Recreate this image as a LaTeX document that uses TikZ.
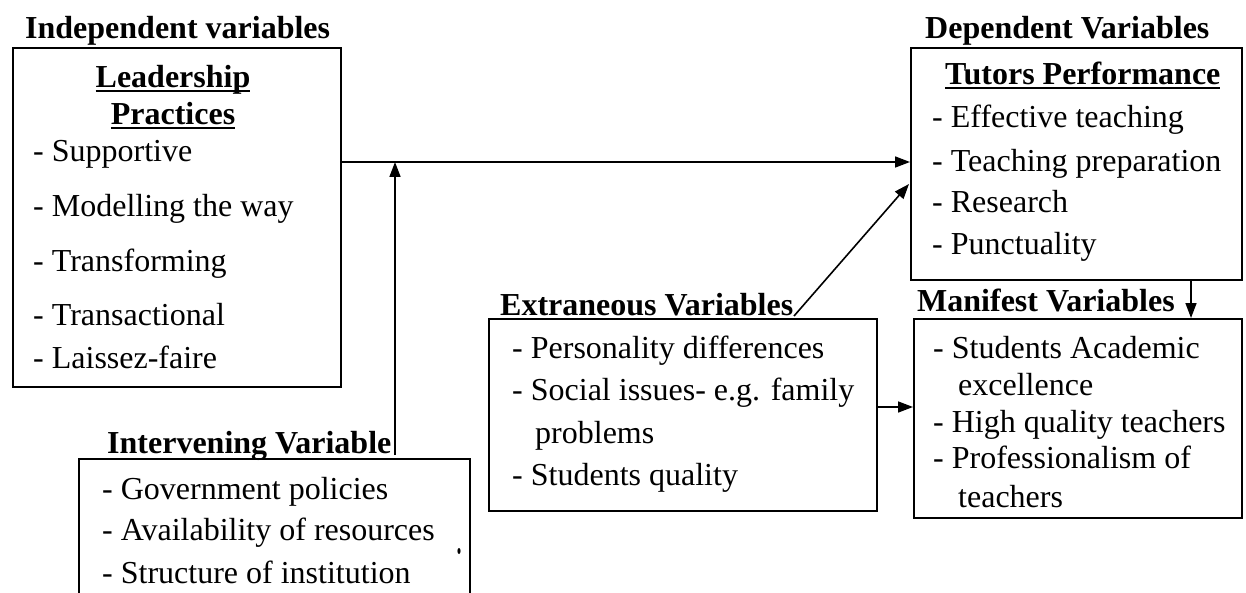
\documentclass[tikz,border=0pt]{standalone}
\usepackage{fontspec}
\setmainfont{Liberation Serif}
\usetikzlibrary{arrows.meta}
\newcommand\myul[1]{\setbox0\hbox{#1}\rlap{\rule[-4.5pt]{\wd0}{2pt}}\box0}
\tikzset{
  box/.style={draw, line width=1.8pt, rectangle, inner sep=0pt, anchor=north west},
  txt/.style={anchor=base west, inner sep=0pt, font=\fontsize{32}{38}\selectfont},
  hd/.style={txt, font=\fontsize{32}{38}\selectfont\bfseries},
  ctr/.style={anchor=base, inner sep=0pt, font=\fontsize{32}{38}\selectfont\bfseries},
  conn/.style={line width=1.6pt, -{Triangle[length=15pt,width=11pt]}},
  plain/.style={line width=1.6pt}
}
\begin{document}
\begin{tikzpicture}[x=1pt,y=-1pt]
\useasboundingbox (0,0) rectangle (1246,593);
\clip (0,0) rectangle (1246,593);
% boxes
\node[box, minimum width=328pt, minimum height=339pt] (ind) at (12,47) {};
\node[box, minimum width=331pt, minimum height=232pt] (dep) at (910,47) {};
\node[box, minimum width=328pt, minimum height=199pt] (man) at (913,318) {};
\node[box, minimum width=388pt, minimum height=192pt] (ext) at (488,318) {};
\node[box, minimum width=391pt, minimum height=180pt] (int) at (78,458) {};
% Independent
\node[hd] (indl) at (25,39) {Independent variables};
\node[ctr] (lp1) at (173,88) {\myul{Leadership}};
\node[ctr] (lp2) at (173,125) {\myul{Practices}};
\node[txt] (i1) at (33,162) {- Supportive};
\node[txt] (i2) at (33,217) {- Modelling the way};
\node[txt] (i3) at (33,272) {- Transforming};
\node[txt] (i4) at (33,325) {- Transactional};
\node[txt] (i5) at (33,368) {- Laissez-faire};
% Dependent
\node[hd] (depl) at (925,39) {Dependent Variables};
\node[hd] (tp) at (945,85) {\myul{Tutors Performance}};
\node[txt] (d1) at (932,128) {- Effective teaching};
\node[txt] (d2) at (932,172) {- Teaching preparation};
\node[txt] (d3) at (932,213) {- Research};
\node[txt] (d4) at (932,255) {- Punctuality};
% Manifest
\node[hd] (manl) at (917,312) {Manifest Variables};
\node[txt] (m1) at (933,358) {- Students Academic};
\node[txt] (m1b) at (958,395) {excellence};
\node[txt] (m2) at (933,432) {- High quality teachers};
\node[txt] (m3) at (933,468) {- Professionalism of};
\node[txt] (m3b) at (958,507) {teachers};
% Extraneous
\node[hd] (extl) at (500,315) {Extraneous Variables};
\node[txt] (e1) at (512,358) {- Personality differences};
\node[txt] (e2) at (512,400) {- Social issues- e.g. family};
\node[txt] (e2b) at (535,443) {problems};
\node[txt] (e3) at (512,485) {- Students quality};
% Intervening
\node[hd] (intl) at (107,453) {Intervening Variable};
\node[txt] (n1) at (102,499) {- Government policies};
\node[txt] (n2) at (102,540) {- Availability of resources};
\node[txt] (n3) at (102,583) {- Structure of institution};
% stray dot
\fill (459,551) ellipse (1.6pt and 3pt);
% connectors
\coordinate (hy) at (0,162);
\coordinate (vs) at (395,455);
\coordinate (jn) at (vs |- hy);
\coordinate (ey) at (0,407);
\coordinate (dx) at (1191,0);
\draw[conn] (ind.east |- hy) -- (dep.west |- hy);
\draw[conn] (vs) -- (jn);
\coordinate (es) at (794,316);
\coordinate (dt) at (909,184);
\draw[conn] (es) -- (dt);
\draw[conn] (ext.east |- ey) -- (man.west |- ey);
\draw[conn] (dep.south -| dx) -- (man.north -| dx);
\end{tikzpicture}
\end{document}
